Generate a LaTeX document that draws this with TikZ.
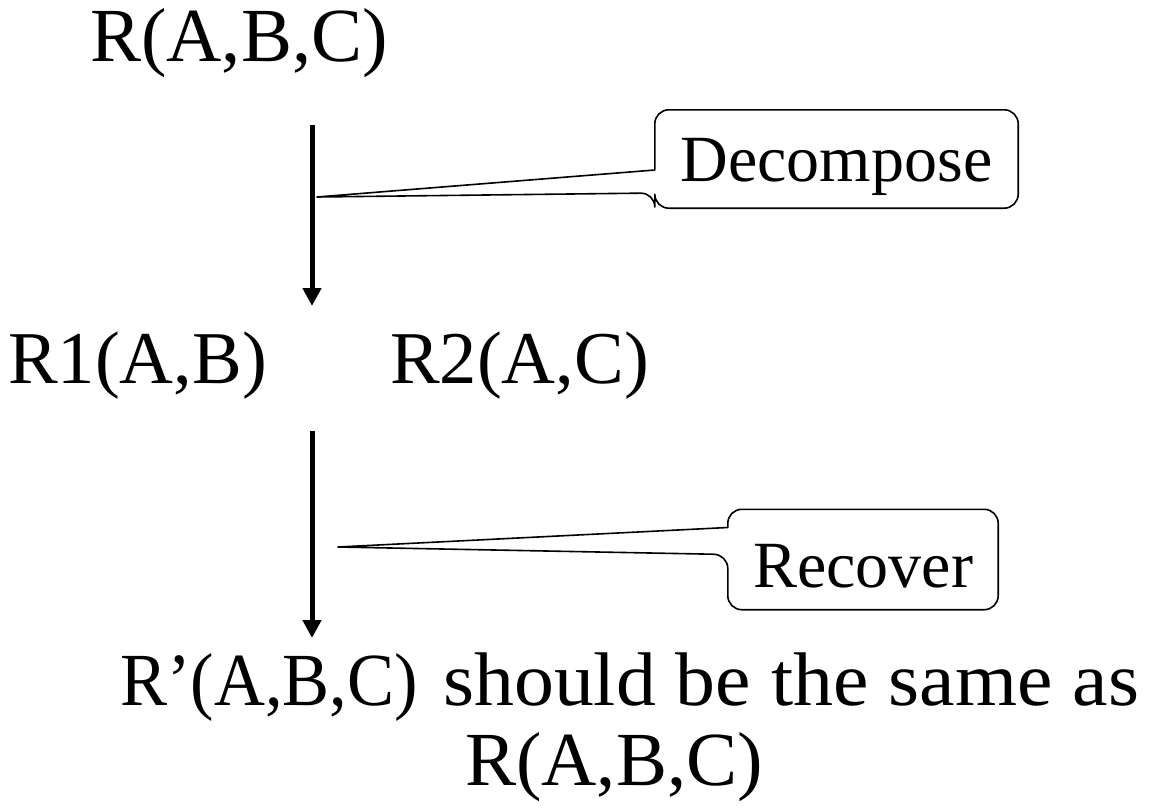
\documentclass[tikz,border=0pt]{standalone}
\usepackage{fontspec}
\setmainfont{Liberation Serif}
\usetikzlibrary{arrows.meta,calc}
\begin{document}
\begin{tikzpicture}[x=1pt,y=-1pt,
  txt/.style={anchor=base west,inner sep=0pt,font=\fontsize{#1}{#1}\selectfont},
  txt/.default=74,
  flow/.style={line width=5pt,-{Triangle[width=18pt,length=18pt]}},
  callbox/.style={draw=none,inner sep=0pt,font=\fontsize{66}{80}\selectfont},
  callline/.style={line width=1.6pt,line join=round}]
\useasboundingbox (0,0) rectangle (1149,808);
% relation schemas
\node[txt=76.5] (r)   at (90,62)   {R(A,B,C)};
\node[txt=74.5] (r1)  at (8,383)   {R1(A,B)};
\node[txt=74.5] (r2)  at (390,383) {R2(A,C)};
\node[txt=75]   (rp)  at (120,705) {\scalebox{0.94}[1]{R’(A,B,C)}};
\node[txt=76]   (eq)  at (443,705) {\scalebox{1.05}[1]{should be the same as}};
\node[txt=76.5] (r0)  at (465,785) {R(A,B,C)};
% arrow end points
\coordinate (d1) at (312,125);
\coordinate (d2) at (312,306);
\coordinate (c1) at (312,431);
\coordinate (c2) at (312,638);
\draw[flow] (d1) -- (d2);
\draw[flow] (c1) -- (c2);
% callout boxes
\node[callbox,minimum width=363pt,minimum height=98pt,text height=50pt,text depth=6pt] (dec) at (836.5,159) {Decompose};
\node[callbox,minimum width=270pt,minimum height=100pt,text height=55pt,text depth=0pt] (rec) at (863,559.5) {Recover};
\coordinate (dtip) at (317,197);
\coordinate (rtip) at (338,547);
\draw[callline] (dtip) -- ($(dec.west)+(0,11)$) [rounded corners=14pt]
  -- (dec.north west) -- (dec.north east) -- (dec.south east) -- (dec.south west)
  -- ($(dec.west)+(0,34)$) [sharp corners] -- cycle;
\draw[callline] (rtip) -- ($(rec.west)+(0,-32)$) [rounded corners=14pt]
  -- (rec.north west) -- (rec.north east) -- (rec.south east) -- (rec.south west)
  -- ($(rec.west)+(0,-5)$) [sharp corners] -- cycle;
\end{tikzpicture}
\end{document}
